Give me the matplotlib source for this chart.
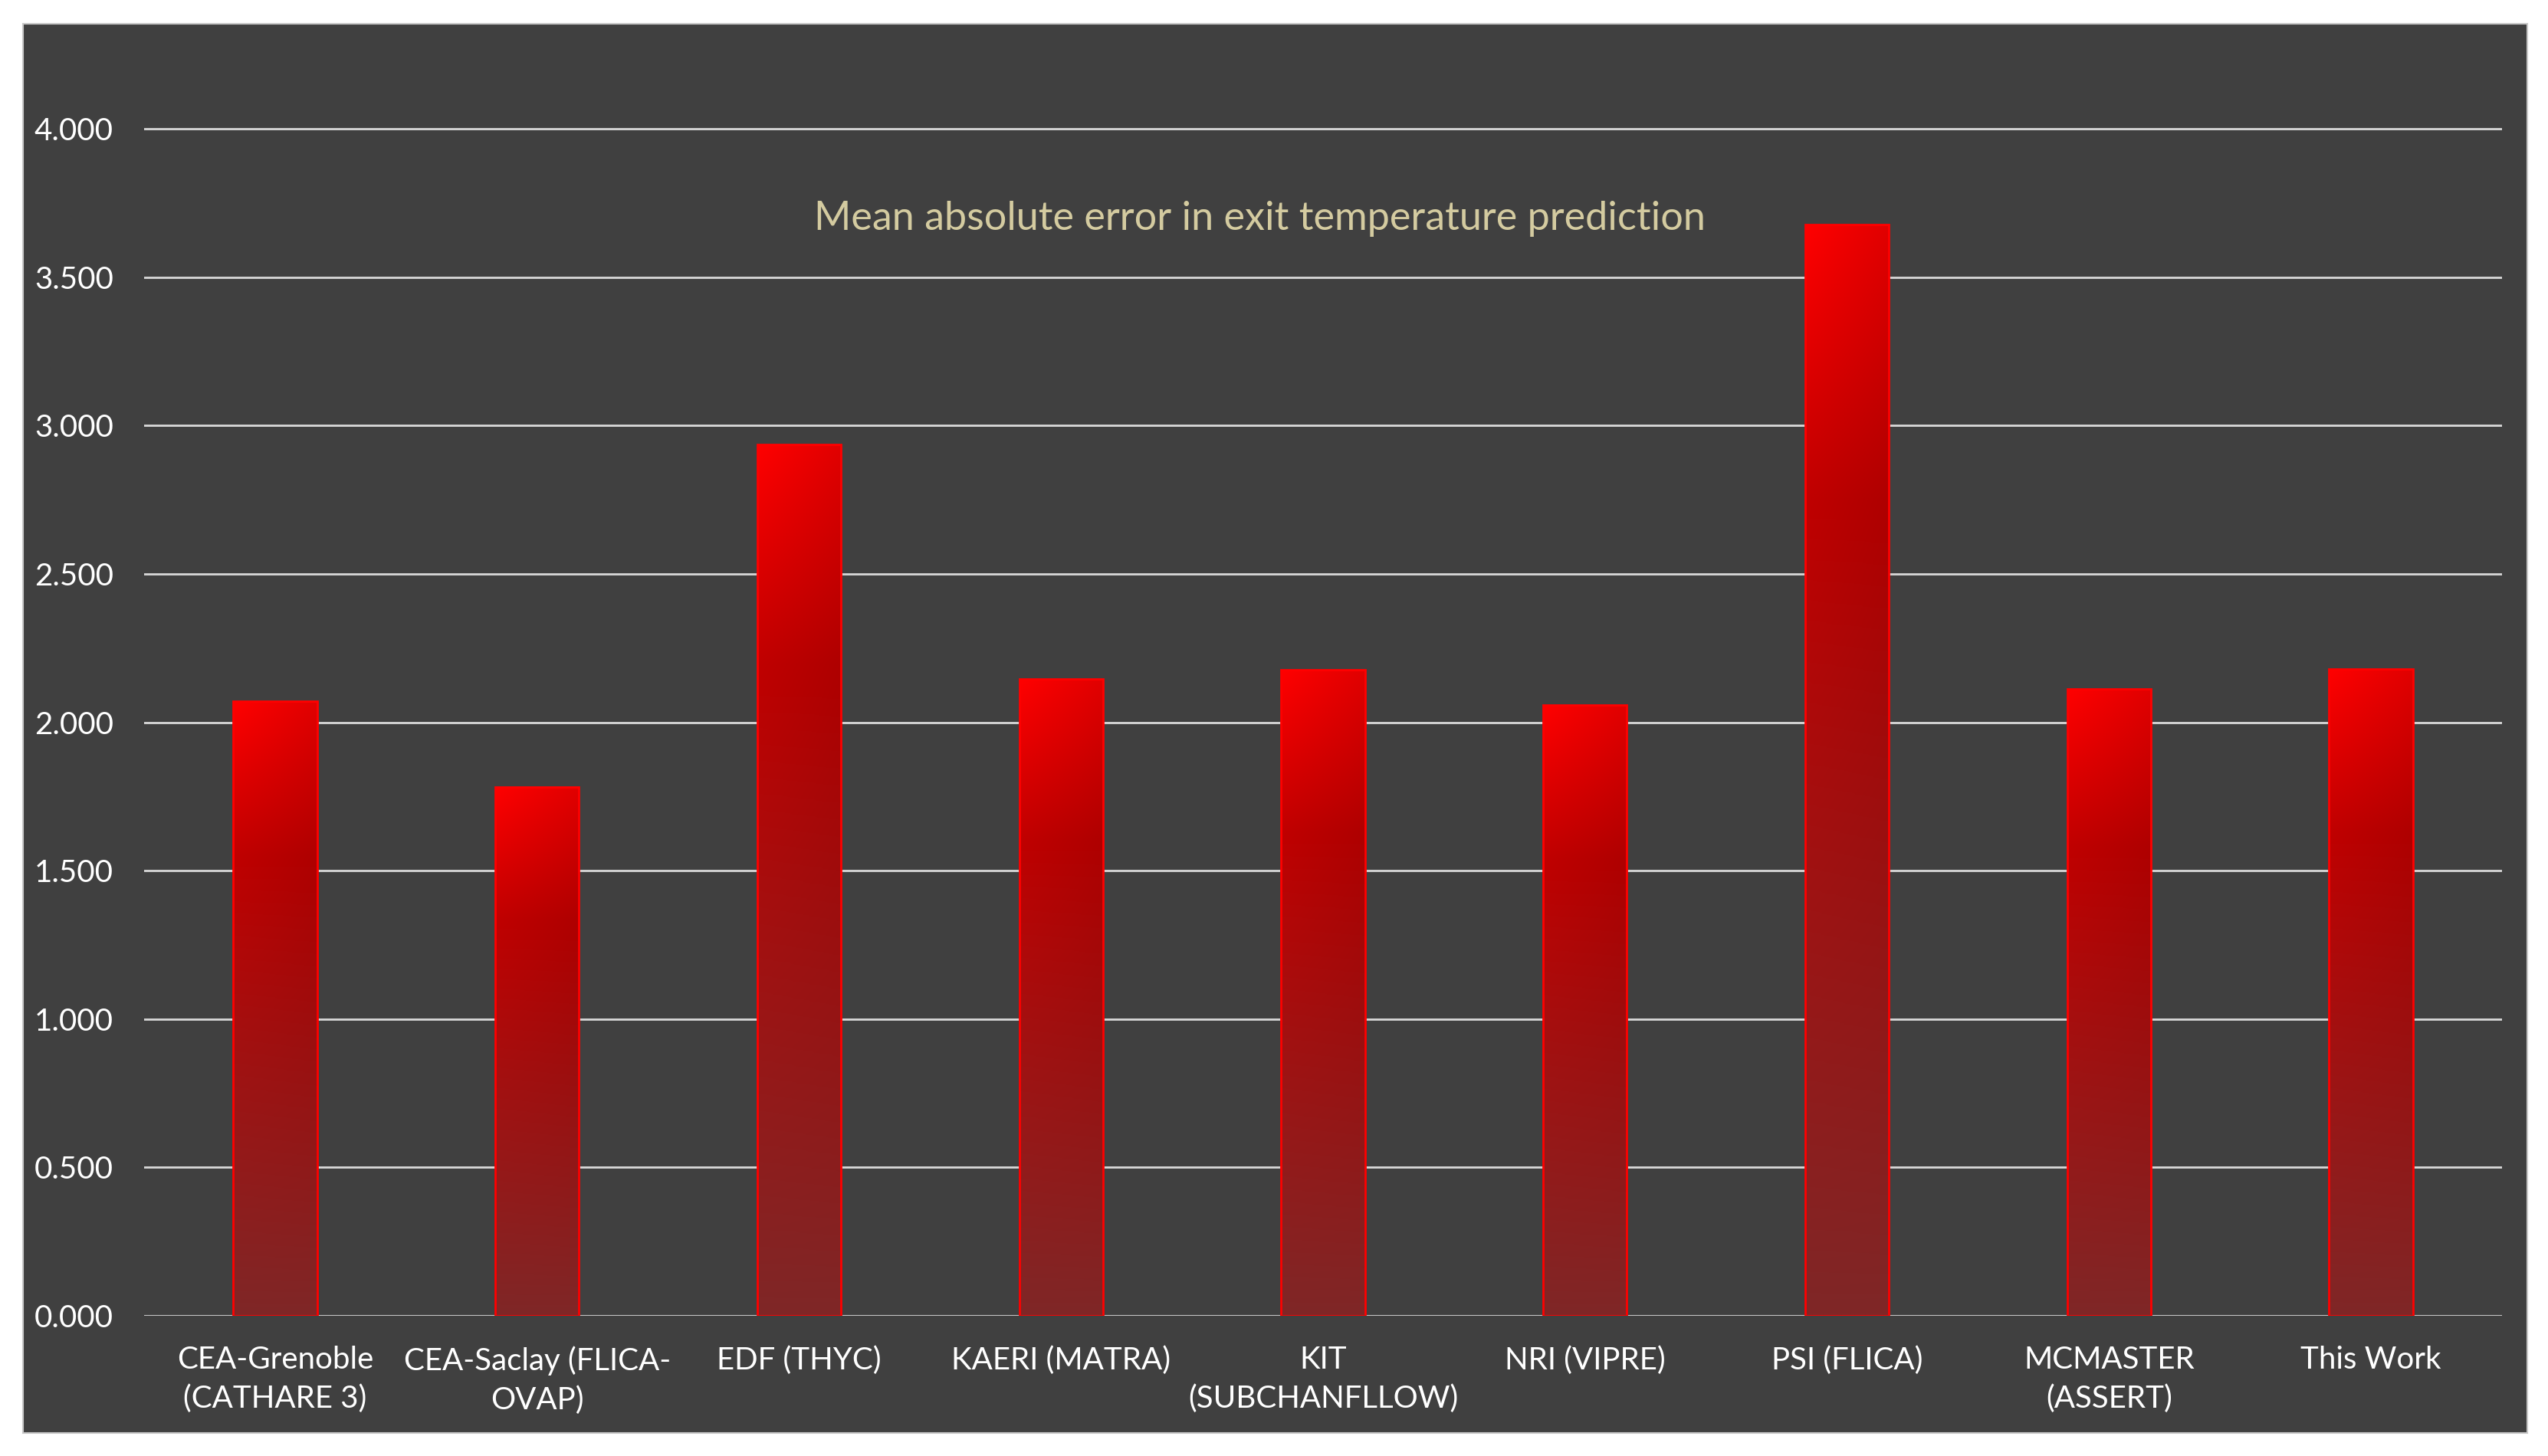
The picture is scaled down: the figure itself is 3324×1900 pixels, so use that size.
import matplotlib
matplotlib.use("Agg")
import matplotlib.pyplot as plt
import numpy as np
from matplotlib.colors import LinearSegmentedColormap
from matplotlib.patches import Rectangle

# values
codes = ["CEA-Grenoble\n(CATHARE 3)", "CEA-Saclay (FLICA-\nOVAP)", "EDF (THYC)",
         "KAERI (MATRA)", "KIT\n(SUBCHANFLLOW)", "NRI (VIPRE)", "PSI (FLICA)",
         "MCMASTER\n(ASSERT)", "This Work"]
mae = [2.070, 1.783, 2.936, 2.146, 2.177, 2.058, 3.677, 2.112, 2.179]
yticks = [0.0, 0.5, 1.0, 1.5, 2.0, 2.5, 3.0, 3.5, 4.0]

panel = "#404040"
plt.rcParams["font.family"] = ["Lato", "DejaVu Sans"]

W, H = 3324, 1900
fig = plt.figure(figsize=(W / 100, H / 100), dpi=100, facecolor="white")

# dark chart panel with light border, behind the axes
fig.patches.append(Rectangle((30 / W, 1 - 1870 / H), (3297 - 30) / W, (1870 - 31) / H,
                             transform=fig.transFigure, facecolor=panel,
                             edgecolor="#c8c8c8", linewidth=1.5, zorder=-10))

ax = fig.add_axes([188 / W, 1 - 1717 / H, (3264 - 188) / W, (1717 - 52) / H])
ax.set_zorder(1)
ax.set_facecolor("none")
x = np.arange(len(codes))
bars = ax.bar(x, mae, width=0.32, color="none", edgecolor="#ff0000", linewidth=2, zorder=3)

# gradient fill: bright red at top to dull dark red at the bottom of each bar
cmap = LinearSegmentedColormap.from_list(
    "bar", [(0.0, "#7f2727"), (0.45, "#a41010"), (0.75, "#c00000"), (1.0, "#ff0000")])
grad = np.linspace(0, 1, 256).reshape(-1, 1)
shade = np.linspace(0, 0.12, 64).reshape(1, -1)
for b in bars:
    x0, w, h = b.get_x(), b.get_width(), b.get_height()
    img = cmap(grad)[:, :, :3] * (1 - shade[..., None] * grad[..., None])
    im = ax.imshow(img, extent=[x0, x0 + w, 0, h], origin="lower", aspect="auto", zorder=2)
    im.set_clip_path(b)

ax.set_xlim(-0.5, len(codes) - 0.5)
ax.set_ylim(0, 4.3)
ax.set_yticks(yticks)
ax.set_yticklabels([f"{v:.3f}" for v in yticks])
ax.set_xticks(x)
ax.set_xticklabels(codes, linespacing=1.45)
ax.yaxis.grid(True, color="#d9d9d9", linewidth=2)
ax.set_axisbelow(True)
for s in ax.spines.values():
    s.set_visible(False)
ax.tick_params(axis="y", length=0, pad=29, labelsize=29, labelcolor="white")
ax.tick_params(axis="x", length=0, pad=28, labelsize=29, labelcolor="white")

fig.text(1643 / W, 1 - 286 / H, "Mean absolute error in exit temperature prediction",
         ha="center", va="center", fontsize=37.5, color="#d4cba0", zorder=5)

fig.savefig("out.png", dpi=100, facecolor="white")
